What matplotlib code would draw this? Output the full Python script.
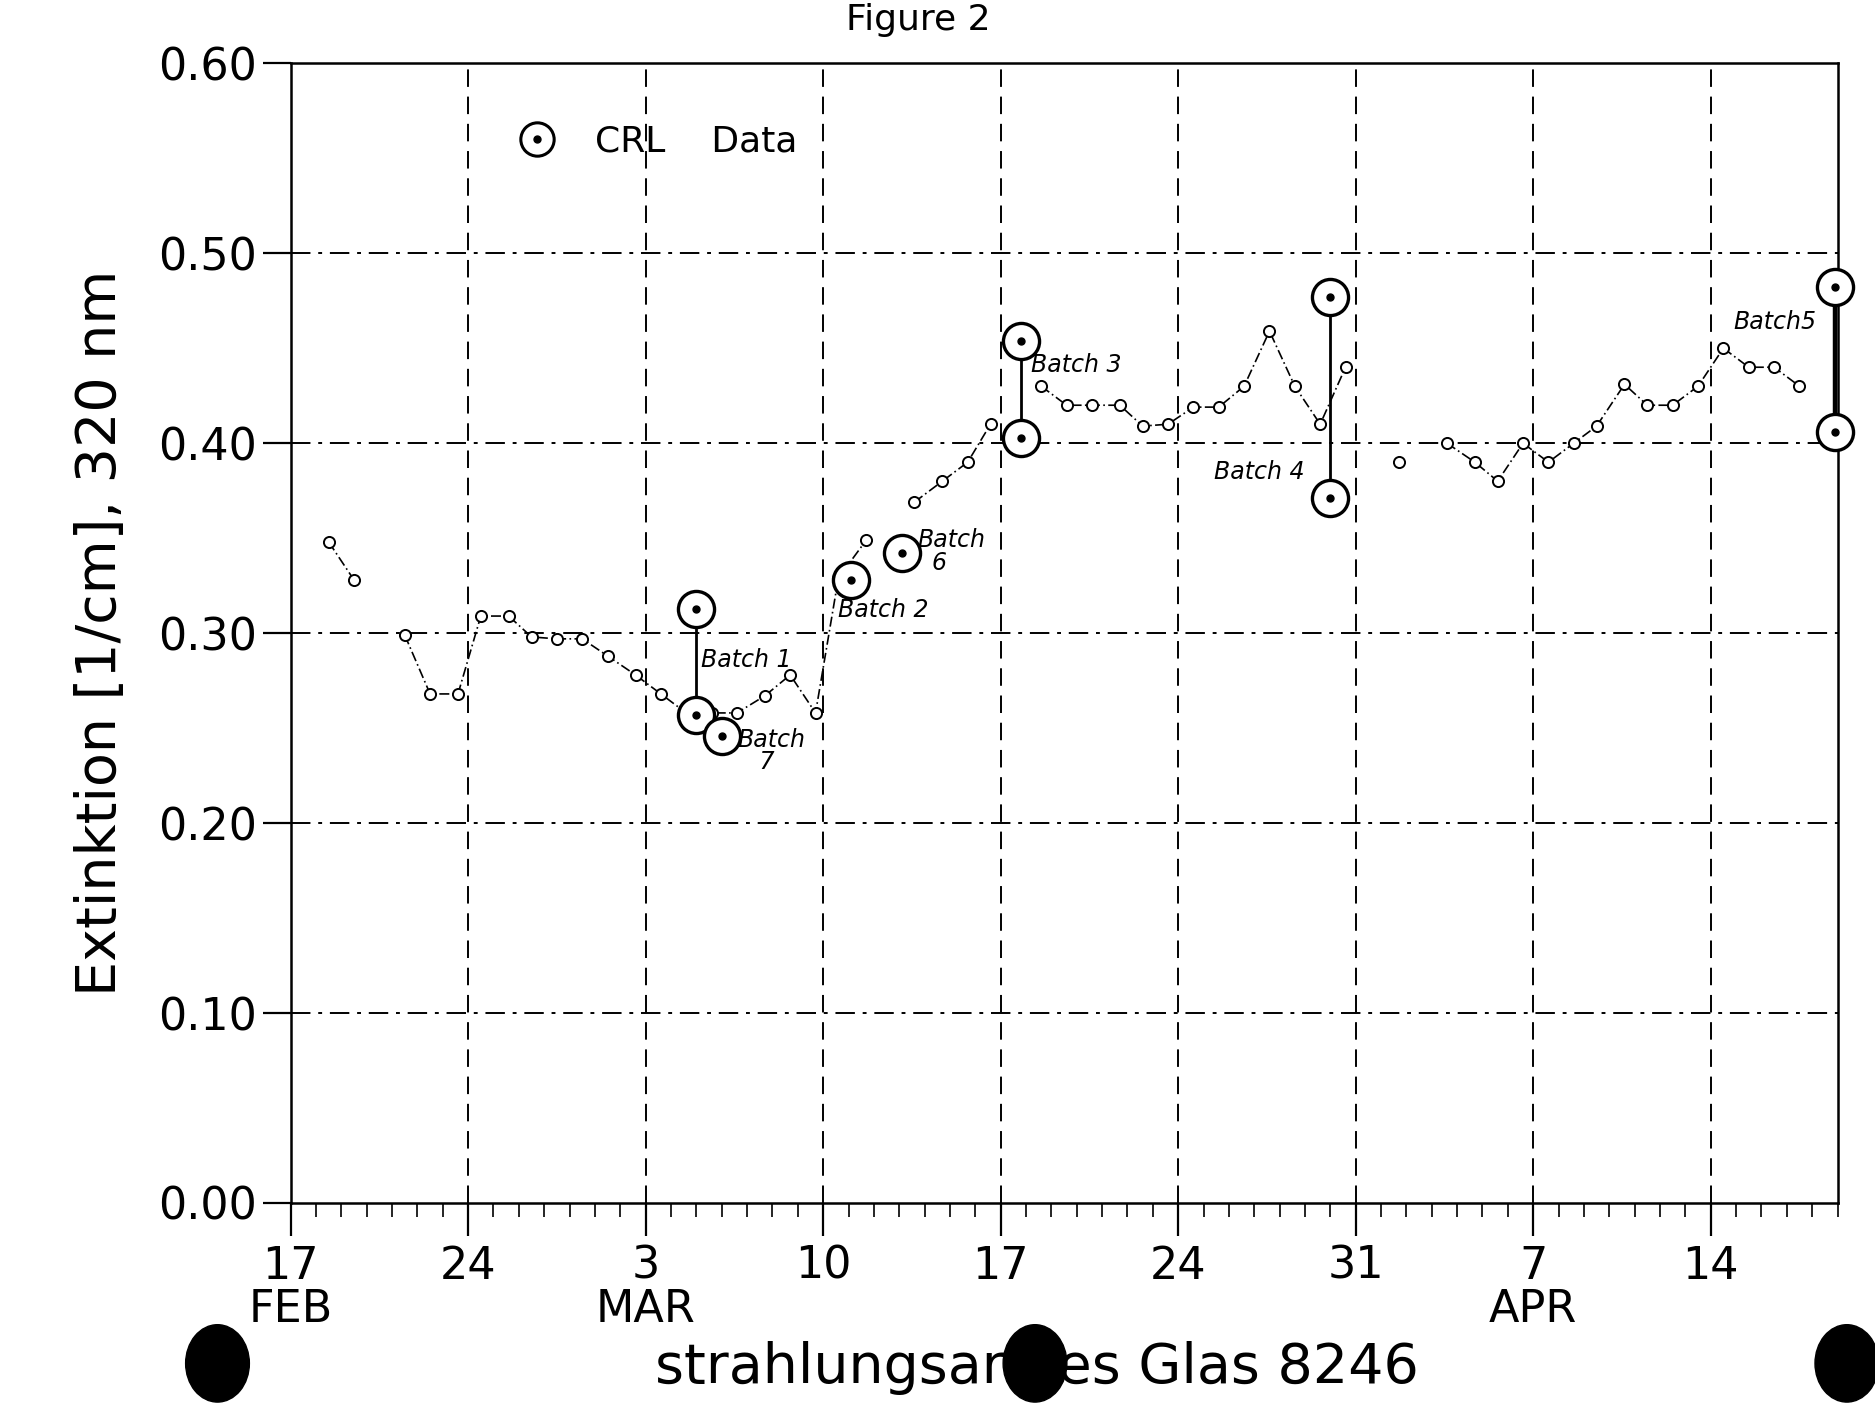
import numpy as np
import matplotlib
matplotlib.use("Agg")
import matplotlib.pyplot as plt
from matplotlib.lines import Line2D
from matplotlib.patches import Ellipse

# days counted from 17 Feb, extinction in 1/cm
days_a = [1.5, 2.5]
ext_a = [0.348, 0.328]

days_b = [4.5, 5.5, 6.6, 7.5, 8.6, 9.5, 10.5, 11.5, 12.5, 13.6,
          14.6, 15.6, 16.6, 17.6, 18.7, 19.7, 20.7, 21.6, 22.7]
ext_b = [0.299, 0.268, 0.268, 0.309, 0.309, 0.298, 0.297, 0.297, 0.288, 0.278,
         0.268, 0.258, 0.258, 0.258, 0.267, 0.278, 0.258, 0.329, 0.349]

days_c = [24.6, 25.7, 26.7, 27.6]
ext_c = [0.369, 0.380, 0.390, 0.410]

days_d = [29.6, 30.6, 31.6, 32.7, 33.6, 34.6, 35.6, 36.6, 37.6, 38.6, 39.6, 40.6, 41.6]
ext_d = [0.430, 0.420, 0.420, 0.420, 0.409, 0.410, 0.419, 0.419, 0.430, 0.459,
         0.430, 0.410, 0.440]

days_e = [43.7]
ext_e = [0.390]

days_f = [45.6, 46.7, 47.6, 48.6, 49.6, 50.6, 51.5, 52.6, 53.5, 54.5,
          55.5, 56.5, 57.5, 58.5, 59.5]
ext_f = [0.400, 0.390, 0.380, 0.400, 0.390, 0.400, 0.409, 0.431, 0.420, 0.420,
         0.430, 0.450, 0.440, 0.440, 0.430]

# CRL data per batch (upper / lower value, nan when only one point)
batch_names = ["Batch 1", "Batch 7", "Batch 2", "Batch 6", "Batch 3", "Batch 4", "Batch5"]
batch_day = [16.0, 17.0, 22.1, 24.1, 28.8, 41.0, 60.9]
batch_hi = [0.3125, 0.246, 0.328, 0.342, 0.454, 0.477, 0.482]
batch_lo = [0.257, np.nan, np.nan, np.nan, 0.403, 0.371, 0.406]

week_days = [0, 7, 14, 21, 28, 35, 42, 49, 56]
week_labels = ["17\nFEB", "24", "3\nMAR", "10", "17", "24", "31", "7\nAPR", "14"]
y_ticks = [0.0, 0.1, 0.2, 0.3, 0.4, 0.5, 0.6]

fig = plt.figure(figsize=(18.75, 14.07), dpi=100)
ax = fig.add_axes([0.155, 0.145, 0.825, 0.81])

ax.set_xlim(0, 61)
ax.set_ylim(0, 0.6)

# grid: dashed verticals, dash-dot horizontals
for d in week_days[1:]:
    ax.axvline(d, color="black", lw=1.4, ls=(0, (9, 5)), zorder=1)
for y in y_ticks[1:-1]:
    ax.axhline(y, color="black", lw=1.4, ls=(0, (10, 4, 2, 4)), zorder=1)

# measured series
line_kw = dict(color="black", lw=1.2, ls=(0, (6, 2, 1, 2)), marker="o", ms=8,
               mfc="white", mec="black", mew=1.4, zorder=3)
for dd, ee in [(days_a, ext_a), (days_b, ext_b), (days_c, ext_c),
               (days_d, ext_d), (days_e, ext_e), (days_f, ext_f)]:
    ax.plot(dd, ee, **line_kw)

# CRL data
crl_kw = dict(ls="none", marker="o", ms=26, mfc="white", mec="black", mew=2.4,
              zorder=5, clip_on=False)
dot_kw = dict(ls="none", marker="o", ms=5, color="black", zorder=6, clip_on=False)
for i, name in enumerate(batch_names):
    d = batch_day[i]
    if not np.isnan(batch_lo[i]):
        ax.plot([d, d], [batch_lo[i], batch_hi[i]], color="black",
                lw=3.2 if name == "Batch5" else 2.0, zorder=4, clip_on=False)
        ax.plot(d, batch_lo[i], **crl_kw)
        ax.plot(d, batch_lo[i], **dot_kw)
    ax.plot(d, batch_hi[i], **crl_kw)
    ax.plot(d, batch_hi[i], **dot_kw)

# hand written batch labels (positions in data units)
label_pos = {
    "Batch 1": (16.2, 0.286, "Batch 1"),
    "Batch 7": (17.6, 0.238, "Batch\n   7"),
    "Batch 2": (21.6, 0.312, "Batch 2"),
    "Batch 6": (24.7, 0.343, "Batch\n  6"),
    "Batch 3": (29.2, 0.441, "Batch 3"),
    "Batch 4": (36.4, 0.385, "Batch 4"),
    "Batch5": (56.9, 0.464, "Batch5"),
}
for name in batch_names:
    x, y, txt = label_pos[name]
    ax.text(x, y, txt, fontsize=17, style="italic", va="center", ha="left",
            linespacing=0.9, zorder=7)

# legend: open circle with a dot in it
h_ring = Line2D([], [], ls="none", marker="o", ms=24, mfc="white", mec="black", mew=2.2)
h_dot = Line2D([], [], ls="none", marker="o", ms=5, color="black")
ax.legend([(h_ring, h_dot)], ["CRL    Data"], loc="upper left",
          bbox_to_anchor=(0.115, 0.975), frameon=False, fontsize=26,
          handletextpad=0.6)

# axes, ticks
for s in ax.spines.values():
    s.set_linewidth(1.8)
ax.set_xticks(week_days)
ax.set_xticklabels(week_labels)
ax.set_xticks(np.arange(0, 62, 1), minor=True)
ax.set_yticks(y_ticks)
ax.set_yticklabels([f"{v:.2f}" for v in y_ticks])
ax.tick_params(axis="x", which="major", direction="out", length=24, width=1.6,
               labelsize=32, pad=6)
ax.tick_params(axis="x", which="minor", direction="out", length=10, width=1.2)
ax.tick_params(axis="y", which="major", direction="out", length=20, width=1.6,
               labelsize=32, pad=4)
for lab in ax.get_xticklabels():
    lab.set_linespacing(1.0)

ax.set_ylabel("Extinktion [1/cm], 320 nm", fontsize=40, labelpad=22)
fig.text(0.553, 0.028, "strahlungsarmes Glas 8246", fontsize=40, ha="center", va="center")
fig.text(0.49, 0.998, "Figure 2", fontsize=26, ha="center", va="top")

# punch holes of the scanned page
for fx in [0.116, 0.552, 0.985]:
    fig.patches.append(Ellipse((fx, 0.031), 0.034, 0.055, transform=fig.transFigure,
                               color="black", zorder=10))

fig.savefig("out.png", dpi=100)
